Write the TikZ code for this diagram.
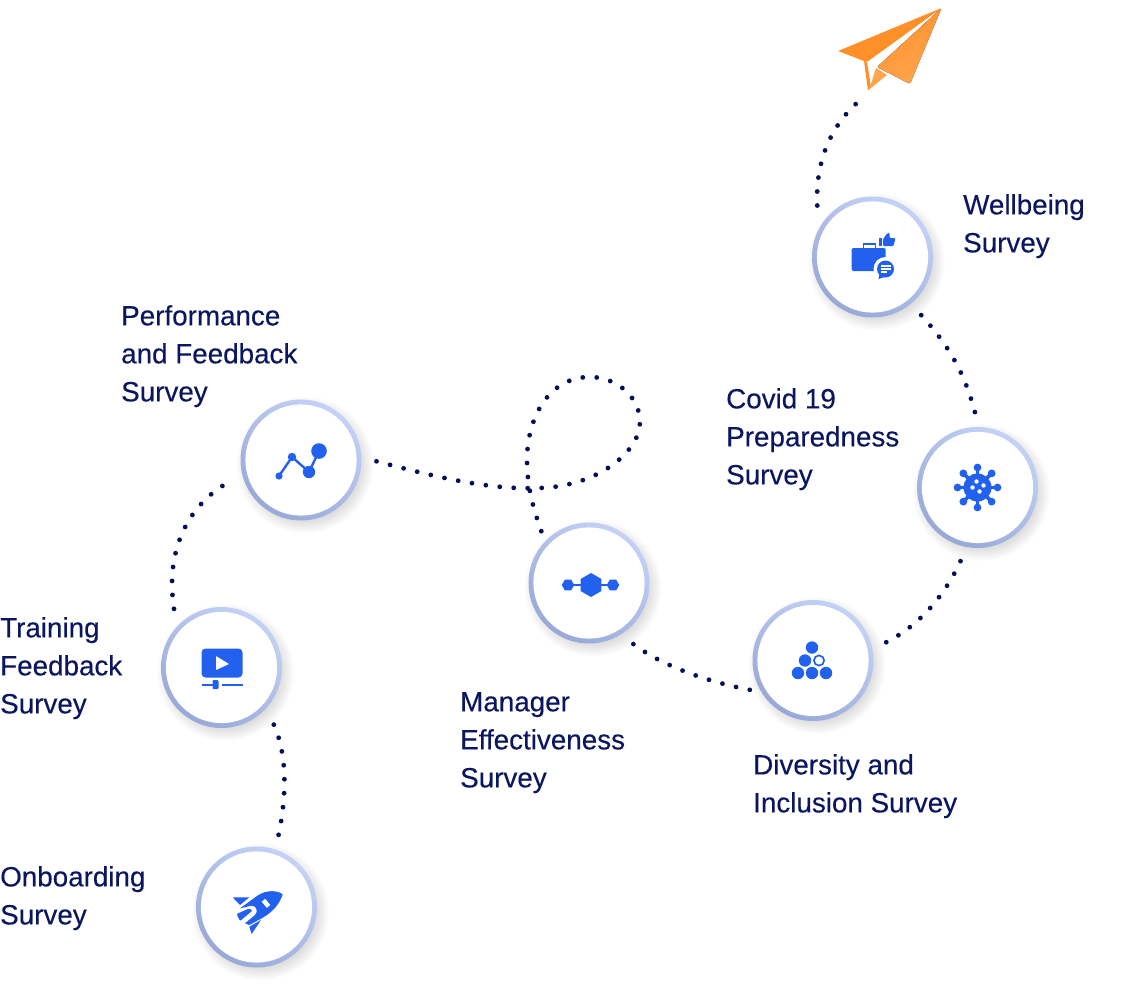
\documentclass[tikz,border=0pt]{standalone}
\usepackage{fontspec}
\setmainfont[FakeBold=0.3]{Liberation Sans}
\usepackage{xcolor}
\usetikzlibrary{calc,shapes.geometric}

\definecolor{navytext}{HTML}{0B1660}
\definecolor{navydot}{HTML}{050F57}
\definecolor{iconblue}{HTML}{2260EE}
\definecolor{ringlight}{HTML}{C4D2F6}
\definecolor{ringdark}{HTML}{98A9D8}
\definecolor{planetop}{HTML}{FF9029}
\definecolor{planelow}{HTML}{FFA550}

\tikzset{
	surveynode/.style={circle, minimum size=121pt, inner sep=0, outer sep=15pt, shading=axis, top color=ringlight, bottom color=ringdark, shading angle=-35},
	surveylabel/.style={anchor=north west, inner sep=0, align=left, text=navytext, font=\fontsize{27.8}{38}\selectfont},
	dotline/.style={navydot, line width=4.8pt, line cap=round, dash pattern=on 0pt off 14pt},
	iconball/.style={fill=iconblue, draw=none},
	iconhex/.style={regular polygon, regular polygon sides=6, fill=iconblue, inner sep=0}
}

\begin{document}
\begin{tikzpicture}[x=1pt, y=-1pt]
	\useasboundingbox (0,0) rectangle (1126,990);

	% circles with a soft shadow
	\foreach \nm/\cx/\cy in {wellbeing/872.5/257, covid/977.5/487.5, diversity/813/660.5, manager/589/583, performance/301/460, training/221.5/667.5, onboarding/256.5/907}{
		\foreach \r in {56,58,...,68}
			\fill[black, opacity=0.02] (\cx+4,\cy+5) circle (\r pt);
		\node[surveynode] (\nm) at (\cx,\cy) {};
		\fill[white] (\nm.center) circle (55.6pt);
	}

	% dotted route
	\coordinate (planetail) at (864,97);
	\draw[dotline] (onboarding.73) .. controls (288,790) and (286,750) .. (training.313);
	\draw[dotline] (training.129) .. controls (165,550) and (188,505) .. (performance.197);
	\draw[dotline, shorten >=-6pt] (performance.359) .. controls (440,478) and (490,490) .. (540,488)
		.. controls (600,486) and (641,450) .. (640,421)
		.. controls (639,395) and (615,377) .. (590,377)
		.. controls (550,377) and (528,415) .. (527,458)
		.. controls (527,485) and (532,505) .. (manager.131);
	\draw[dotline, shorten >=-15pt] (manager.306) .. controls (665,668) and (715,684) .. (diversity.202);
	\draw[dotline] (diversity.14) .. controls (920,625) and (945,595) .. (covid.257);
	\draw[dotline, shorten >=-8pt] (covid.92) .. controls (965,375) and (950,345) .. (wellbeing.310);
	\draw[dotline] (wellbeing.137) .. controls (815,160) and (832,122) .. (planetail);

	% paper plane
	\fill[planetop, rounded corners=1pt] (941.5,8) -- (838,51) -- (864,61) -- (867,62) -- cycle;
	\fill[left color=planetop, right color=planelow, shading angle=30, rounded corners=2pt] (941.5,8) -- (877,67) -- (910,84) -- cycle;
	\fill[planetop] (864,61) -- (867,62) -- (871,87) -- (868,90.5) -- cycle;
	\fill[planelow] (868,90.5) -- (887,75) -- (876,68) -- (871,84) -- cycle;

	% labels
	\node[surveylabel] (wellbeinglabel) at (963,194) {Wellbeing\\Survey};
	\node[surveylabel] (covidlabel) at (726,388) {Covid 19\\Preparedness\\Survey};
	\node[surveylabel] (diversitylabel) at (753,754) {Diversity and\\Inclusion Survey};
	\node[surveylabel] (managerlabel) at (460,692) {Manager\\Effectiveness\\Survey};
	\node[surveylabel] (performancelabel) at (121,305) {Performance\\and Feedback\\Survey};
	\node[surveylabel] (traininglabel) at (0,617) {Training\\Feedback\\Survey};
	\node[surveylabel] (onboardinglabel) at (0,866) {Onboarding\\Survey};

	% icon: briefcase
	\begin{scope}[shift={(wellbeing.center)}]
		\draw[iconblue, line width=1.8pt] (-9,-9) -- (-9,-13) -- (3,-13) -- (3,-9);
		\fill[iconblue, rounded corners=1.5pt] (-21,-9) rectangle (13,14);
		\fill[white] (13,12) circle (12pt);
		\fill[iconblue] (13,12) circle (8.5pt);
		\fill[iconblue] (7,17) -- (6,22) -- (12,20) -- cycle;
		\draw[white, line width=1.1pt] (8,9) -- (18,9) (8,12) -- (18,12) (8,15) -- (14,15);
		\fill[iconblue] (6,-19) rectangle (9,-11);
		\fill[iconblue, rounded corners=1pt] (10.5,-18) -- (15,-24) -- (17,-24) -- (17,-19) -- (23,-19) -- (21,-11) -- (10.5,-11) -- cycle;
	\end{scope}

	% icon: virus
	\begin{scope}[shift={(covid.center)}]
		\foreach \a in {0,45,...,315}{
			\draw[iconblue, line width=3.6pt] (0,0) -- (\a:20);
			\fill[iconblue] (\a:20) circle (3.9pt);
		}
		\fill[iconblue] (0,0) circle (14pt);
		\foreach \hx/\hy in {-1/-6, -5/0, 6/-2, 2/4}
			\fill[white] (\hx,\hy) circle (2.2pt);
	\end{scope}

	% icon: circles
	\begin{scope}[shift={(diversity.center)}]
		\foreach \bx/\by in {-1/-13, -8/0, -15/12.5, -1/12.5, 13/12.5}
			\fill[iconball] (\bx,\by) circle (6.2pt);
		\draw[iconblue, line width=1.7pt] (6,0) circle (5.1pt);
	\end{scope}

	% icon: hexagons
	\begin{scope}[shift={(manager.center)}]
		\draw[iconblue, line width=1.8pt] (-21,2) -- (24,2);
		\node[iconhex, minimum size=24pt, shape border rotate=30] (hexmid) at (2,2) {};
		\node[iconhex, minimum size=12.5pt] (hexleft) at (-21,2) {};
		\node[iconhex, minimum size=12.5pt] (hexright) at (24,2) {};
	\end{scope}

	% icon: chart
	\begin{scope}[shift={(performance.center)}]
		\draw[iconblue, line width=2.4pt] (-22,16) -- (-9,-3) -- (8,12) -- (18,-9);
		\fill[iconball] (-22,16) circle (3.6pt);
		\fill[iconball] (-9,-3) circle (4.2pt);
		\fill[iconball] (8,12) circle (6.2pt);
		\fill[iconball] (18,-9) circle (7.8pt);
	\end{scope}

	% icon: video
	\begin{scope}[shift={(training.center)}]
		\fill[iconblue, rounded corners=4pt] (-20,-19) rectangle (21,10);
		\fill[white, rounded corners=.5pt] (-5.5,-11.5) -- (7.5,-3.5) -- (-5.5,2.5) -- cycle;
		\draw[iconblue, line width=2pt] (-20,17) -- (-4,17) (0,17) -- (21,17);
		\fill[iconblue, rounded corners=1pt] (-9,12.5) rectangle (-3,21.5);
	\end{scope}

	% icon: rocket, typed at three times the size
	\begin{scope}[shift={(onboarding.center)}, x=.3333pt, y=-.3333pt, shift={(-199.5,-201)}]
		\fill[iconblue] (278,163) .. controls (262,150) and (230,150) .. (205,165) -- (150,205) -- (185,197)
			.. controls (200,197) and (205,215) .. (195,225) -- (165,250) -- (178,255) -- (215,235)
			.. controls (250,215) and (270,190) .. cycle;
		\fill[iconblue, rounded corners=1pt] (140,222) -- (178,205) -- (187,212) -- (150,243) -- cycle;
		\fill[iconblue] (128,172) -- (178,172) -- (150,195) -- cycle;
		\fill[iconblue] (178,260) -- (213,240) -- (185,282) -- cycle;
		\node[fill=white, inner sep=0, minimum width=8pt, minimum height=4.5pt, rotate=-50] (rocketwindow) at (228,190) {};
	\end{scope}
\end{tikzpicture}
\end{document}
